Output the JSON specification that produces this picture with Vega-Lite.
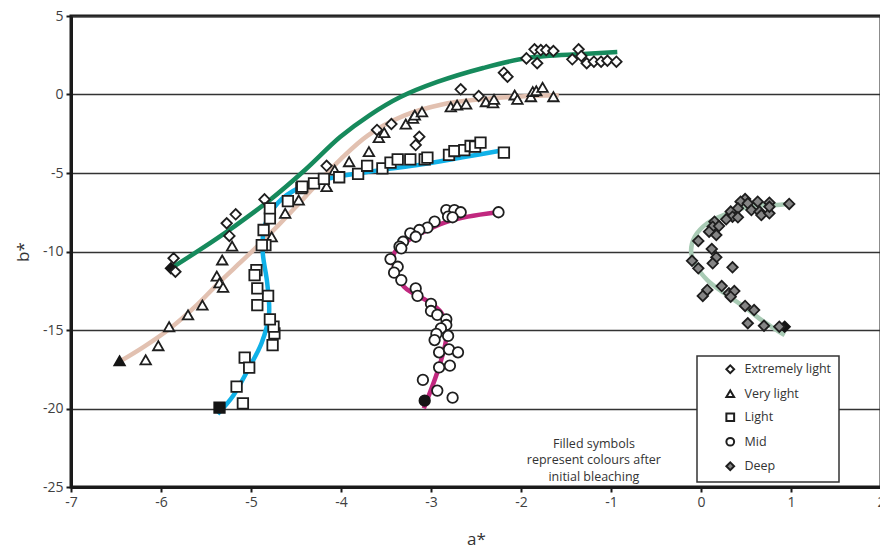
{
  "$schema": "https://vega.github.io/schema/vega-lite/v6.json",
  "width": 810,
  "height": 471,
  "autosize": {"type": "none"},
  "padding": {"left": 71, "top": 16, "right": 0, "bottom": 61},
  "background": "white",
  "config": {
    "font": "Open Sans",
    "view": {"stroke": "#1a1a1a", "strokeWidth": 3},
    "axis": {
      "domainColor": "#1a1a1a",
      "domainWidth": 3,
      "tickColor": "#1a1a1a",
      "tickWidth": 2,
      "tickSize": 5,
      "labelFont": "Open Sans",
      "labelFontSize": 14,
      "labelColor": "#404040",
      "labelPadding": 3,
      "labelExpr": "'' + datum.value",
      "titleFont": "Open Sans",
      "titleFontSize": 17,
      "titleFontWeight": "normal",
      "titleColor": "#333333"
    },
    "legend": {
      "strokeColor": "#333333",
      "strokeWidth": 1.5,
      "fillColor": "white",
      "padding": 7,
      "symbolOffset": 20,
      "labelOffset": 8,
      "rowPadding": 7.5,
      "labelFont": "Open Sans",
      "labelFontSize": 12.5,
      "labelColor": "#333333",
      "symbolSize": 60,
      "symbolStrokeWidth": 2
    }
  },
  "datasets": {
    "curves": [
      {"shade": "Extremely light", "k": 1, "a": -5.92, "b": -11.18},
      {"shade": "Extremely light", "k": 2, "a": -5.57, "b": -9.9},
      {"shade": "Extremely light", "k": 3, "a": -5.18, "b": -8.38},
      {"shade": "Extremely light", "k": 4, "a": -4.79, "b": -6.72},
      {"shade": "Extremely light", "k": 5, "a": -4.4, "b": -4.81},
      {"shade": "Extremely light", "k": 6, "a": -4.01, "b": -2.71},
      {"shade": "Extremely light", "k": 7, "a": -3.68, "b": -1.31},
      {"shade": "Extremely light", "k": 8, "a": -3.34, "b": -0.16},
      {"shade": "Extremely light", "k": 9, "a": -2.93, "b": 0.8},
      {"shade": "Extremely light", "k": 10, "a": -2.42, "b": 1.69},
      {"shade": "Extremely light", "k": 11, "a": -1.93, "b": 2.32},
      {"shade": "Extremely light", "k": 12, "a": -1.31, "b": 2.58},
      {"shade": "Extremely light", "k": 13, "a": -0.93, "b": 2.71},

      {"shade": "Very light", "k": 1, "a": -6.47, "b": -17.04},
      {"shade": "Very light", "k": 2, "a": -6.2, "b": -16.1},
      {"shade": "Very light", "k": 3, "a": -5.9, "b": -14.9},
      {"shade": "Very light", "k": 4, "a": -5.6, "b": -13.4},
      {"shade": "Very light", "k": 5, "a": -5.35, "b": -11.95},
      {"shade": "Very light", "k": 6, "a": -5.1, "b": -10.6},
      {"shade": "Very light", "k": 7, "a": -4.9, "b": -9.5},
      {"shade": "Very light", "k": 8, "a": -4.7, "b": -8.35},
      {"shade": "Very light", "k": 9, "a": -4.5, "b": -7.15},
      {"shade": "Very light", "k": 10, "a": -4.3, "b": -5.9},
      {"shade": "Very light", "k": 11, "a": -4.0, "b": -4.1},
      {"shade": "Very light", "k": 12, "a": -3.7, "b": -2.6},
      {"shade": "Very light", "k": 13, "a": -3.3, "b": -1.35},
      {"shade": "Very light", "k": 14, "a": -2.89, "b": -0.65},
      {"shade": "Very light", "k": 15, "a": -2.44, "b": -0.3},
      {"shade": "Very light", "k": 16, "a": -2.0, "b": -0.12},
      {"shade": "Very light", "k": 17, "a": -1.58, "b": -0.05},

      {"shade": "Light", "k": 1, "a": -5.37, "b": -20.35},
      {"shade": "Light", "k": 2, "a": -5.2, "b": -19.2},
      {"shade": "Light", "k": 3, "a": -5.04, "b": -17.6},
      {"shade": "Light", "k": 4, "a": -4.88, "b": -15.8},
      {"shade": "Light", "k": 5, "a": -4.8, "b": -14.0},
      {"shade": "Light", "k": 6, "a": -4.82, "b": -12.0},
      {"shade": "Light", "k": 7, "a": -4.87, "b": -10.0},
      {"shade": "Light", "k": 8, "a": -4.85, "b": -8.4},
      {"shade": "Light", "k": 9, "a": -4.7, "b": -6.9},
      {"shade": "Light", "k": 10, "a": -4.45, "b": -5.9},
      {"shade": "Light", "k": 11, "a": -4.1, "b": -5.3},
      {"shade": "Light", "k": 12, "a": -3.6, "b": -4.85},
      {"shade": "Light", "k": 13, "a": -3.1, "b": -4.45},
      {"shade": "Light", "k": 14, "a": -2.65, "b": -4.0},
      {"shade": "Light", "k": 15, "a": -2.2, "b": -3.55},

      {"shade": "Mid", "k": 1, "a": -3.08, "b": -19.99},
      {"shade": "Mid", "k": 2, "a": -2.91, "b": -17.34},
      {"shade": "Mid", "k": 3, "a": -2.83, "b": -15.43},
      {"shade": "Mid", "k": 4, "a": -2.87, "b": -14.04},
      {"shade": "Mid", "k": 5, "a": -3.0, "b": -13.3},
      {"shade": "Mid", "k": 6, "a": -3.3, "b": -12.24},
      {"shade": "Mid", "k": 7, "a": -3.41, "b": -10.97},
      {"shade": "Mid", "k": 8, "a": -3.41, "b": -10.12},
      {"shade": "Mid", "k": 9, "a": -3.3, "b": -9.48},
      {"shade": "Mid", "k": 10, "a": -3.11, "b": -8.84},
      {"shade": "Mid", "k": 11, "a": -2.85, "b": -8.16},
      {"shade": "Mid", "k": 12, "a": -2.59, "b": -7.78},
      {"shade": "Mid", "k": 13, "a": -2.26, "b": -7.5},

      {"shade": "Deep", "k": 1, "a": 0.98, "b": -6.97},
      {"shade": "Deep", "k": 2, "a": 0.81, "b": -7.04},
      {"shade": "Deep", "k": 3, "a": 0.56, "b": -7.1},
      {"shade": "Deep", "k": 4, "a": 0.3, "b": -7.57},
      {"shade": "Deep", "k": 5, "a": 0.07, "b": -8.2},
      {"shade": "Deep", "k": 6, "a": -0.07, "b": -9.06},
      {"shade": "Deep", "k": 7, "a": -0.11, "b": -10.01},
      {"shade": "Deep", "k": 8, "a": -0.06, "b": -10.86},
      {"shade": "Deep", "k": 9, "a": 0.07, "b": -11.82},
      {"shade": "Deep", "k": 10, "a": 0.26, "b": -12.66},
      {"shade": "Deep", "k": 11, "a": 0.48, "b": -13.52},
      {"shade": "Deep", "k": 12, "a": 0.67, "b": -14.36},
      {"shade": "Deep", "k": 13, "a": 0.81, "b": -14.89},
      {"shade": "Deep", "k": 14, "a": 0.93, "b": -15.32}
    ],
    "bleached": [
      {"shade": "Extremely light", "a": -5.89, "b": -11.07},
      {"shade": "Very light", "a": -6.46, "b": -16.96},
      {"shade": "Light", "a": -5.35, "b": -19.95},
      {"shade": "Mid", "a": -3.07, "b": -19.5},
      {"shade": "Deep", "a": 0.93, "b": -14.79}
    ],
    "samples": [
      {"shade": "Extremely light", "a": -5.86, "b": -10.43},
      {"shade": "Extremely light", "a": -5.84, "b": -11.29},
      {"shade": "Extremely light", "a": -5.27, "b": -8.2},
      {"shade": "Extremely light", "a": -5.17, "b": -7.63},
      {"shade": "Extremely light", "a": -5.24, "b": -9.01},
      {"shade": "Extremely light", "a": -4.85, "b": -6.68},
      {"shade": "Extremely light", "a": -4.16, "b": -4.54},
      {"shade": "Extremely light", "a": -3.6, "b": -2.26},
      {"shade": "Extremely light", "a": -3.44, "b": -1.88},
      {"shade": "Extremely light", "a": -3.13, "b": -2.69},
      {"shade": "Extremely light", "a": -3.17, "b": -3.22},
      {"shade": "Extremely light", "a": -2.67, "b": 0.33},
      {"shade": "Extremely light", "a": -2.47, "b": -0.1},
      {"shade": "Extremely light", "a": -2.19, "b": 1.39},
      {"shade": "Extremely light", "a": -2.15, "b": 1.13},
      {"shade": "Extremely light", "a": -1.94, "b": 2.3},
      {"shade": "Extremely light", "a": -1.85, "b": 2.88},
      {"shade": "Extremely light", "a": -1.78, "b": 2.83},
      {"shade": "Extremely light", "a": -1.72, "b": 2.83},
      {"shade": "Extremely light", "a": -1.64, "b": 2.77},
      {"shade": "Extremely light", "a": -1.82, "b": 1.99},
      {"shade": "Extremely light", "a": -1.36, "b": 2.88},
      {"shade": "Extremely light", "a": -1.43, "b": 2.24},
      {"shade": "Extremely light", "a": -1.33, "b": 2.45},
      {"shade": "Extremely light", "a": -1.27, "b": 1.99},
      {"shade": "Extremely light", "a": -1.19, "b": 2.09},
      {"shade": "Extremely light", "a": -1.11, "b": 2.09},
      {"shade": "Extremely light", "a": -1.04, "b": 2.15},
      {"shade": "Extremely light", "a": -0.94, "b": 2.09},

      {"shade": "Very light", "a": -6.17, "b": -16.9},
      {"shade": "Very light", "a": -6.03, "b": -16.0},
      {"shade": "Very light", "a": -5.91, "b": -14.79},
      {"shade": "Very light", "a": -5.7, "b": -14.04},
      {"shade": "Very light", "a": -5.54, "b": -13.41},
      {"shade": "Very light", "a": -5.38, "b": -11.56},
      {"shade": "Very light", "a": -5.35, "b": -11.99},
      {"shade": "Very light", "a": -5.31, "b": -12.28},
      {"shade": "Very light", "a": -5.32, "b": -10.54},
      {"shade": "Very light", "a": -5.21, "b": -9.65},
      {"shade": "Very light", "a": -4.77, "b": -9.06},
      {"shade": "Very light", "a": -4.62, "b": -7.57},
      {"shade": "Very light", "a": -4.47, "b": -6.72},
      {"shade": "Very light", "a": -4.16, "b": -5.87},
      {"shade": "Very light", "a": -4.07, "b": -4.81},
      {"shade": "Very light", "a": -3.91, "b": -4.28},
      {"shade": "Very light", "a": -3.69, "b": -3.64},
      {"shade": "Very light", "a": -3.58, "b": -2.75},
      {"shade": "Very light", "a": -3.52, "b": -2.43},
      {"shade": "Very light", "a": -3.28, "b": -1.88},
      {"shade": "Very light", "a": -3.2, "b": -1.52},
      {"shade": "Very light", "a": -3.18, "b": -1.31},
      {"shade": "Very light", "a": -3.1, "b": -1.1},
      {"shade": "Very light", "a": -2.78, "b": -0.78},
      {"shade": "Very light", "a": -2.71, "b": -0.67},
      {"shade": "Very light", "a": -2.61, "b": -0.61},
      {"shade": "Very light", "a": -2.39, "b": -0.46},
      {"shade": "Very light", "a": -2.31, "b": -0.53},
      {"shade": "Very light", "a": -2.3, "b": -0.31},
      {"shade": "Very light", "a": -2.07, "b": -0.03},
      {"shade": "Very light", "a": -2.04, "b": -0.31},
      {"shade": "Very light", "a": -1.89, "b": -0.14},
      {"shade": "Very light", "a": -1.87, "b": 0.18},
      {"shade": "Very light", "a": -1.83, "b": 0.24},
      {"shade": "Very light", "a": -1.76, "b": 0.46},
      {"shade": "Very light", "a": -1.64, "b": -0.14},

      {"shade": "Light", "a": -5.09, "b": -19.67},
      {"shade": "Light", "a": -5.16, "b": -18.61},
      {"shade": "Light", "a": -5.07, "b": -16.76},
      {"shade": "Light", "a": -5.02, "b": -17.4},
      {"shade": "Light", "a": -4.76, "b": -15.96},
      {"shade": "Light", "a": -4.74, "b": -15.21},
      {"shade": "Light", "a": -4.75, "b": -14.79},
      {"shade": "Light", "a": -4.79, "b": -14.32},
      {"shade": "Light", "a": -4.93, "b": -13.41},
      {"shade": "Light", "a": -4.81, "b": -12.83},
      {"shade": "Light", "a": -4.93, "b": -12.35},
      {"shade": "Light", "a": -4.94, "b": -11.18},
      {"shade": "Light", "a": -4.96, "b": -11.5},
      {"shade": "Light", "a": -4.84, "b": -9.59},
      {"shade": "Light", "a": -4.88, "b": -9.59},
      {"shade": "Light", "a": -4.86, "b": -8.63},
      {"shade": "Light", "a": -4.79, "b": -7.89},
      {"shade": "Light", "a": -4.79, "b": -7.25},
      {"shade": "Light", "a": -4.59, "b": -6.79},
      {"shade": "Light", "a": -4.44, "b": -5.97},
      {"shade": "Light", "a": -4.43, "b": -5.87},
      {"shade": "Light", "a": -4.3, "b": -5.66},
      {"shade": "Light", "a": -4.19, "b": -5.38},
      {"shade": "Light", "a": -4.02, "b": -5.27},
      {"shade": "Light", "a": -3.81, "b": -5.06},
      {"shade": "Light", "a": -3.71, "b": -4.54},
      {"shade": "Light", "a": -3.54, "b": -4.7},
      {"shade": "Light", "a": -3.45, "b": -4.34},
      {"shade": "Light", "a": -3.37, "b": -4.13},
      {"shade": "Light", "a": -3.23, "b": -4.13},
      {"shade": "Light", "a": -3.07, "b": -4.13},
      {"shade": "Light", "a": -3.04, "b": -4.02},
      {"shade": "Light", "a": -2.8, "b": -3.85},
      {"shade": "Light", "a": -2.74, "b": -3.6},
      {"shade": "Light", "a": -2.63, "b": -3.54},
      {"shade": "Light", "a": -2.56, "b": -3.28},
      {"shade": "Light", "a": -2.51, "b": -3.32},
      {"shade": "Light", "a": -2.45, "b": -3.07},
      {"shade": "Light", "a": -2.19, "b": -3.7},

      {"shade": "Mid", "a": -2.25, "b": -7.5},
      {"shade": "Mid", "a": -2.83, "b": -7.36},
      {"shade": "Mid", "a": -2.74, "b": -7.36},
      {"shade": "Mid", "a": -2.67, "b": -7.5},
      {"shade": "Mid", "a": -2.81, "b": -7.78},
      {"shade": "Mid", "a": -2.76, "b": -7.82},
      {"shade": "Mid", "a": -2.96, "b": -8.1},
      {"shade": "Mid", "a": -3.04, "b": -8.48},
      {"shade": "Mid", "a": -3.13, "b": -8.63},
      {"shade": "Mid", "a": -3.23, "b": -8.84},
      {"shade": "Mid", "a": -3.17, "b": -9.06},
      {"shade": "Mid", "a": -3.31, "b": -9.38},
      {"shade": "Mid", "a": -3.35, "b": -9.69},
      {"shade": "Mid", "a": -3.33, "b": -9.8},
      {"shade": "Mid", "a": -3.45, "b": -10.48},
      {"shade": "Mid", "a": -3.37, "b": -10.97},
      {"shade": "Mid", "a": -3.41, "b": -11.35},
      {"shade": "Mid", "a": -3.33, "b": -11.82},
      {"shade": "Mid", "a": -3.17, "b": -12.35},
      {"shade": "Mid", "a": -3.15, "b": -12.83},
      {"shade": "Mid", "a": -3.0, "b": -13.34},
      {"shade": "Mid", "a": -3.0, "b": -13.79},
      {"shade": "Mid", "a": -2.93, "b": -14.04},
      {"shade": "Mid", "a": -2.83, "b": -14.32},
      {"shade": "Mid", "a": -2.83, "b": -14.68},
      {"shade": "Mid", "a": -2.89, "b": -14.89},
      {"shade": "Mid", "a": -2.94, "b": -15.25},
      {"shade": "Mid", "a": -2.81, "b": -15.38},
      {"shade": "Mid", "a": -2.96, "b": -15.64},
      {"shade": "Mid", "a": -2.91, "b": -16.42},
      {"shade": "Mid", "a": -2.8, "b": -16.23},
      {"shade": "Mid", "a": -2.7, "b": -16.42},
      {"shade": "Mid", "a": -2.91, "b": -17.38},
      {"shade": "Mid", "a": -2.79, "b": -17.27},
      {"shade": "Mid", "a": -3.09, "b": -18.18},
      {"shade": "Mid", "a": -2.93, "b": -18.86},
      {"shade": "Mid", "a": -2.76, "b": -19.31},

      {"shade": "Deep", "a": 0.98, "b": -6.97},
      {"shade": "Deep", "a": 0.49, "b": -6.66},
      {"shade": "Deep", "a": 0.44, "b": -6.83},
      {"shade": "Deep", "a": 0.52, "b": -6.93},
      {"shade": "Deep", "a": 0.63, "b": -6.83},
      {"shade": "Deep", "a": 0.76, "b": -6.89},
      {"shade": "Deep", "a": 0.56, "b": -7.36},
      {"shade": "Deep", "a": 0.65, "b": -7.46},
      {"shade": "Deep", "a": 0.67, "b": -7.68},
      {"shade": "Deep", "a": 0.76, "b": -7.57},
      {"shade": "Deep", "a": 0.76, "b": -7.15},
      {"shade": "Deep", "a": 0.41, "b": -7.25},
      {"shade": "Deep", "a": 0.33, "b": -7.46},
      {"shade": "Deep", "a": 0.35, "b": -7.78},
      {"shade": "Deep", "a": 0.28, "b": -7.95},
      {"shade": "Deep", "a": 0.41, "b": -7.82},
      {"shade": "Deep", "a": 0.15, "b": -8.1},
      {"shade": "Deep", "a": 0.13, "b": -8.42},
      {"shade": "Deep", "a": 0.2, "b": -8.38},
      {"shade": "Deep", "a": 0.09, "b": -8.74},
      {"shade": "Deep", "a": 0.17, "b": -8.95},
      {"shade": "Deep", "a": -0.03, "b": -9.33},
      {"shade": "Deep", "a": 0.12, "b": -9.84},
      {"shade": "Deep", "a": 0.17, "b": -10.37},
      {"shade": "Deep", "a": 0.13, "b": -10.75},
      {"shade": "Deep", "a": -0.1, "b": -10.59},
      {"shade": "Deep", "a": -0.03, "b": -11.07},
      {"shade": "Deep", "a": 0.35, "b": -11.01},
      {"shade": "Deep", "a": 0.23, "b": -12.2},
      {"shade": "Deep", "a": 0.07, "b": -12.45},
      {"shade": "Deep", "a": 0.02, "b": -12.83},
      {"shade": "Deep", "a": 0.31, "b": -12.66},
      {"shade": "Deep", "a": 0.37, "b": -12.52},
      {"shade": "Deep", "a": 0.33, "b": -12.88},
      {"shade": "Deep", "a": 0.49, "b": -13.47},
      {"shade": "Deep", "a": 0.59, "b": -13.73},
      {"shade": "Deep", "a": 0.52, "b": -14.57},
      {"shade": "Deep", "a": 0.7, "b": -14.73},
      {"shade": "Deep", "a": 0.87, "b": -14.79}
    ]
  },
  "layer": [
    {
      "data": {"name": "curves"},
      "mark": {"type": "line", "interpolate": "catmull-rom", "strokeWidth": 4.5, "strokeCap": "butt"},
      "encoding": {
        "x": {
          "field": "a",
          "type": "quantitative",
          "title": "a*",
          "scale": {"domain": [-7, 2], "nice": false, "zero": false},
          "axis": {"values": [-7, -6, -5, -4, -3, -2, -1, 0, 1, 2], "grid": false, "labelFlush": false, "titlePadding": 22}
        },
        "y": {
          "field": "b",
          "type": "quantitative",
          "title": "b*",
          "scale": {"domain": [-25, 5], "nice": false, "zero": false},
          "axis": {"values": [-25, -20, -15, -10, -5, 0, 5], "grid": true, "gridColor": "#333333", "gridWidth": 1.3, "gridOpacity": 1, "titlePadding": 10}
        },
        "stroke": {
          "field": "shade",
          "type": "nominal",
          "scale": {"range": ["#a9cbb5", "#168a5c", "#10b1e8", "#c1287f", "#e2c1b1"]},
          "legend": null
        },
        "order": {"field": "k", "type": "quantitative"}
      }
    },
    {
      "data": {"name": "bleached"},
      "transform": [{"filter": "datum.shade === 'Extremely light' || datum.shade === 'Deep'"}],
      "mark": {"type": "point", "shape": "diamond", "filled": true, "size": 110, "fill": "#151515", "stroke": "#151515", "strokeWidth": 1.8, "opacity": 1},
      "encoding": {"x": {"field": "a", "type": "quantitative"}, "y": {"field": "b", "type": "quantitative"}}
    },
    {
      "data": {"name": "bleached"},
      "transform": [{"filter": "datum.shade === 'Very light'"}],
      "mark": {"type": "point", "shape": "triangle-up", "filled": true, "size": 110, "fill": "#151515", "stroke": "#151515", "strokeWidth": 1.8, "opacity": 1},
      "encoding": {"x": {"field": "a", "type": "quantitative"}, "y": {"field": "b", "type": "quantitative"}}
    },
    {
      "data": {"name": "bleached"},
      "transform": [{"filter": "datum.shade === 'Light'"}],
      "mark": {"type": "point", "shape": "square", "filled": true, "size": 110, "fill": "#151515", "stroke": "#151515", "strokeWidth": 1.8, "opacity": 1},
      "encoding": {"x": {"field": "a", "type": "quantitative"}, "y": {"field": "b", "type": "quantitative"}}
    },
    {
      "data": {"name": "bleached"},
      "transform": [{"filter": "datum.shade === 'Mid'"}],
      "mark": {"type": "point", "shape": "circle", "filled": true, "size": 110, "fill": "#151515", "stroke": "#151515", "strokeWidth": 1.8, "opacity": 1},
      "encoding": {"x": {"field": "a", "type": "quantitative"}, "y": {"field": "b", "type": "quantitative"}}
    },
    {
      "data": {"name": "samples"},
      "mark": {"type": "point", "filled": true, "size": 110, "stroke": "#1e1e1e", "strokeWidth": 1.8, "opacity": 1},
      "encoding": {
        "x": {"field": "a", "type": "quantitative"},
        "y": {"field": "b", "type": "quantitative"},
        "shape": {
          "field": "shade",
          "type": "nominal",
          "scale": {
            "domain": ["Extremely light", "Very light", "Light", "Mid", "Deep"],
            "range": ["diamond", "triangle-up", "square", "circle", "diamond"]
          },
          "legend": {
            "title": null, "orient": "none", "legendX": 626, "legendY": 340,
            "labelExpr": "datum.label + '\u2003\u2009'",
            "encode": {"symbols": {"stroke": {"value": "#1e1e1e"}, "strokeWidth": {"value": 2}}}
          }
        },
        "fill": {
          "field": "shade",
          "type": "nominal",
          "scale": {
            "domain": ["Extremely light", "Very light", "Light", "Mid", "Deep"],
            "range": ["#ffffff", "#ffffff", "#ffffff", "#ffffff", "#858585"]
          },
          "legend": {
            "title": null, "orient": "none", "legendX": 626, "legendY": 340,
            "labelExpr": "datum.label + '\u2003\u2009'",
            "encode": {"symbols": {"stroke": {"value": "#1e1e1e"}, "strokeWidth": {"value": 2}}}
          }
        }
      }
    },
    {
      "data": {"values": [{"note": "Filled symbols\nrepresent colours after\ninitial bleaching"}]},
      "mark": {"type": "text", "align": "center", "baseline": "middle", "fontSize": 12.5, "font": "Open Sans", "color": "#333333", "lineBreak": "\n", "lineHeight": 16.5},
      "encoding": {
        "x": {"datum": -1.19},
        "y": {"datum": -22.26},
        "text": {"field": "note"}
      }
    }
  ]
}
